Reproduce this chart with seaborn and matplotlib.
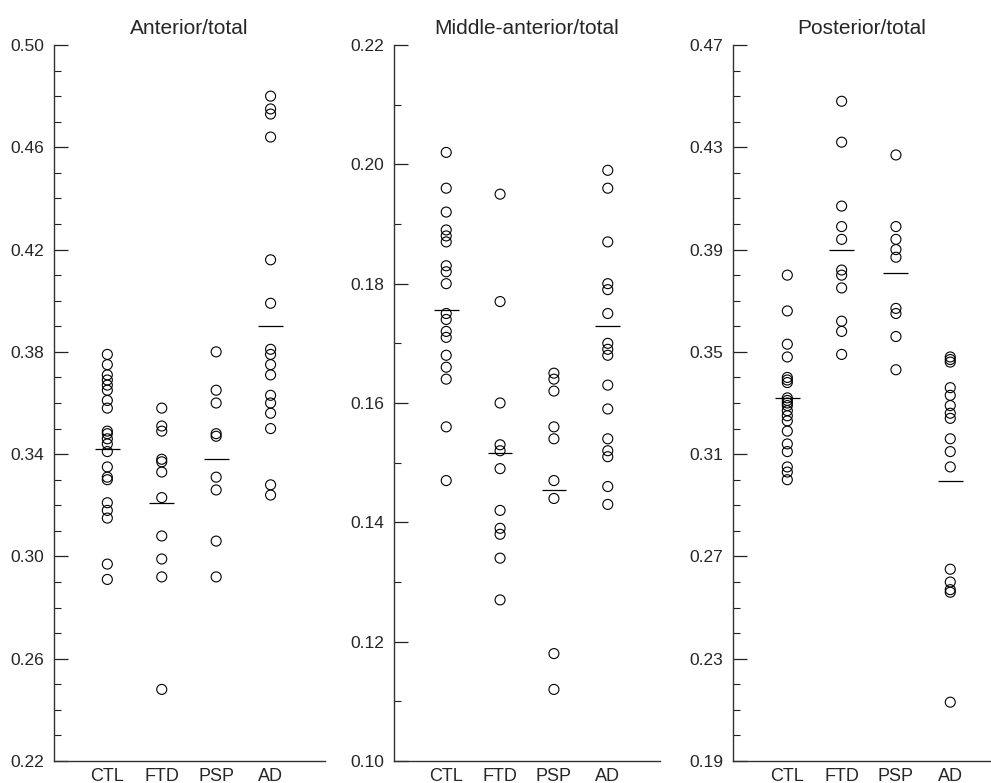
import numpy as np
import pandas as pd
import matplotlib
matplotlib.use('Agg')
import matplotlib.pyplot as plt
from matplotlib.ticker import FixedLocator, FormatStrFormatter
import seaborn as sns

sns.set_style('white')
plt.rcParams['font.family'] = ['Liberation Sans', 'DejaVu Sans']

groups = ['CTL', 'FTD', 'PSP', 'AD']
titles = ['Anterior/total', 'Middle-anterior/total', 'Posterior/total']

# Anterior/total
ant_ctl = [0.379, 0.375, 0.371, 0.369, 0.367, 0.365, 0.361, 0.358, 0.349, 0.348,
           0.346, 0.344, 0.341, 0.335, 0.331, 0.330, 0.321, 0.318, 0.315, 0.297, 0.291]
ant_ftd = [0.358, 0.351, 0.349, 0.338, 0.337, 0.333, 0.323, 0.308, 0.299, 0.292, 0.248]
ant_psp = [0.380, 0.365, 0.360, 0.348, 0.347, 0.331, 0.326, 0.306, 0.292]
ant_ad = [0.480, 0.475, 0.473, 0.464, 0.416, 0.399, 0.381, 0.379, 0.375, 0.371,
          0.363, 0.360, 0.356, 0.350, 0.328, 0.324]
ant_mean = [0.342, 0.321, 0.338, 0.390]

# Middle-anterior/total
mid_ctl = [0.202, 0.196, 0.192, 0.189, 0.188, 0.187, 0.183, 0.182, 0.180, 0.175,
           0.174, 0.172, 0.171, 0.168, 0.166, 0.164, 0.156, 0.147]
mid_ftd = [0.195, 0.177, 0.160, 0.153, 0.152, 0.149, 0.142, 0.139, 0.138, 0.134, 0.127]
mid_psp = [0.165, 0.164, 0.162, 0.156, 0.154, 0.147, 0.144, 0.118, 0.112]
mid_ad = [0.199, 0.196, 0.187, 0.180, 0.179, 0.175, 0.170, 0.169, 0.168, 0.163,
          0.159, 0.154, 0.152, 0.151, 0.146, 0.143]
mid_mean = [0.1756, 0.1517, 0.1455, 0.1729]

# Posterior/total
post_ctl = [0.380, 0.366, 0.353, 0.348, 0.340, 0.339, 0.338, 0.332, 0.331, 0.330,
            0.329, 0.327, 0.325, 0.323, 0.319, 0.314, 0.311, 0.305, 0.303, 0.300]
post_ftd = [0.448, 0.432, 0.407, 0.399, 0.394, 0.382, 0.380, 0.375, 0.362, 0.358, 0.349]
post_psp = [0.427, 0.399, 0.394, 0.390, 0.387, 0.367, 0.365, 0.356, 0.343]
post_ad = [0.348, 0.347, 0.346, 0.336, 0.333, 0.329, 0.326, 0.324, 0.316, 0.311,
           0.305, 0.265, 0.260, 0.257, 0.256, 0.213]
post_mean = [0.332, 0.390, 0.381, 0.2995]

panels = [
    (ant_ctl, ant_ftd, ant_psp, ant_ad, ant_mean, 0.22, 0.50, 0.04),
    (mid_ctl, mid_ftd, mid_psp, mid_ad, mid_mean, 0.10, 0.22, 0.02),
    (post_ctl, post_ftd, post_psp, post_ad, post_mean, 0.19, 0.47, 0.04),
]

fig = plt.figure(figsize=(9.91, 7.83), dpi=100)
boxes = [(54, 271, -0.98, 4.0), (394, 266, -0.97, 3.97), (733, 258, -1.0, 3.75)]
bottom = 1 - 761 / 783
height = 716 / 783

for i, (ctl, ftd, psp, ad, means, ymin, ymax, step) in enumerate(panels):
    left, width, xl, xr = boxes[i]
    ax = fig.add_axes([left / 991, bottom, width / 991, height])
    df = pd.DataFrame({
        'group': ['CTL'] * len(ctl) + ['FTD'] * len(ftd) + ['PSP'] * len(psp) + ['AD'] * len(ad),
        'value': ctl + ftd + psp + ad,
    })
    sns.stripplot(data=df, x='group', y='value', order=groups, jitter=False,
                  size=7.2, color='black', linewidth=0.8, ax=ax, zorder=3)
    for c in ax.collections:
        c.set_facecolor('none')
        c.set_edgecolor('black')
        c.set_linewidth(0.8)
    pos = np.arange(len(groups))
    ax.hlines(means, pos - 0.23, pos + 0.23, color='black', lw=0.9, zorder=4)

    ax.set_xlim(xl, xr)
    ax.set_ylim(ymin, ymax)
    major = np.round(np.arange(ymin, ymax + 1e-6, step), 2)
    minor = np.round(np.arange(ymin, ymax + 1e-6, 0.01), 2)
    ax.yaxis.set_major_locator(FixedLocator(major))
    ax.yaxis.set_minor_locator(FixedLocator(minor))
    ax.yaxis.set_major_formatter(FormatStrFormatter('%.2f'))
    ax.tick_params(axis='y', which='major', direction='in', length=10, width=0.9,
                   labelsize=12.5, pad=7, color='#222222', left=True)
    ax.tick_params(axis='y', which='minor', direction='in', length=5, width=0.8,
                   color='#222222', left=True)
    ax.tick_params(axis='x', length=0, labelsize=13, pad=5)
    ax.set_xlabel('')
    ax.set_ylabel('')
    ax.set_title(titles[i], fontsize=15, pad=8)
    for s in ['top', 'right']:
        ax.spines[s].set_visible(False)
    for s in ['left', 'bottom']:
        ax.spines[s].set_color('#333333')
        ax.spines[s].set_linewidth(1.0)
    ax.patch.set_alpha(0)

fig.savefig('out.png', dpi=100)
